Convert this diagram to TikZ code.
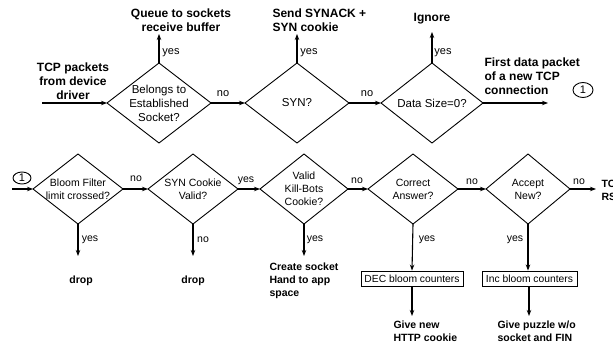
\documentclass[tikz,border=0pt]{standalone}
\usepackage{fontspec}
\setmainfont{Liberation Sans}
\usetikzlibrary{shapes.geometric,arrows.meta}
\begin{document}
\begin{tikzpicture}[x=1pt,y=-1pt,
  line width=1.1pt,
  arr/.style={-{Stealth[length=6pt,width=4.5pt]}},
  dia/.style={draw,diamond,inner sep=0pt,outer sep=0pt,line width=0.9pt},
  dtop/.style={font=\fontsize{11.5}{14}\selectfont,align=center,inner sep=0pt},
  dbot/.style={font=\fontsize{10.5}{13}\selectfont,align=center,inner sep=0pt},
  otop/.style={font=\fontsize{12}{14}\selectfont\bfseries,inner sep=0pt},
  obot/.style={font=\fontsize{10.5}{13}\selectfont\bfseries,inner sep=0pt},
  lab/.style={font=\fontsize{11}{13}\selectfont,inner sep=0pt},
  labs/.style={font=\fontsize{10.5}{13}\selectfont,inner sep=0pt},
  cbox/.style={draw,line width=0.9pt,minimum height=15pt,inner sep=0pt,font=\fontsize{10.3}{12}\selectfont},
  circ/.style={draw,ellipse,line width=0.9pt,inner sep=0pt,font=\fontsize{11}{12}\selectfont}
]
\useasboundingbox (0,0) rectangle (613,347);

% ---- first stage: incoming TCP packets ----
\node[otop,align=center] (src) at (73,81) {TCP packets\\from device\\driver};
\coordinate (srcend) at (42,103);

\node[dia,minimum width=104pt,minimum height=80pt] (d1) at (159,103) {};
\node[dtop] at (d1) {Belongs to\\Established\\Socket?};
\node[dia,minimum width=104pt,minimum height=80pt] (d2) at (297,103) {};
\node[dtop] at (d2) {SYN?};
\node[dia,minimum width=102pt,minimum height=80pt] (d3) at (432,103) {};
\node[dtop] at (d3) {Data Size=0?};

\node[otop,align=center,anchor=south] (q) at (181,32) {Queue to sockets\\receive buffer};
\node[otop,align=left,anchor=south west] (syn) at (272,32) {Send SYNACK +\\SYN cookie};
\node[otop,anchor=south] (ign) at (432,25) {Ignore};
\node[otop,align=left,anchor=north west] (first) at (484,57) {First data packet\\of a new TCP\\connection};
\node[circ,minimum width=20pt,minimum height=15pt] (c1) at (583,90) {1};
\coordinate (firstend) at (548,103);

\draw[arr] (srcend) -- (d1.west);
\draw[arr] (d1.east) -- (d2.west);
\draw[arr] (d2.east) -- (d3.west);
\draw[arr] (d3.east) -- (firstend);
\draw[arr] (d1.north) -- ++(0,-29);
\draw[arr] (d2.north) -- ++(0,-29);
\draw[arr] (d3.north) -- ++(0,-31);

\node[lab] at (171,53) {yes};
\node[lab] at (309,53) {yes};
\node[lab] at (443,53) {yes};
\node[lab] at (223,94) {no};
\node[lab] at (367,94) {no};

% ---- second stage: new connection checks ----
\node[circ,minimum width=18pt,minimum height=12pt] (c2) at (22,178) {1};
\coordinate (c2in) at (12,189);

\node[dia,minimum width=90pt,minimum height=70pt] (b1) at (78,189) {};
\node[dbot] at (b1) {Bloom Filter\\limit crossed?};
\node[dia,minimum width=90pt,minimum height=70pt] (b2) at (193,189) {};
\node[dbot] at (b2) {SYN Cookie\\Valid?};
\node[dia,minimum width=88pt,minimum height=70pt] (b3) at (304,189) {};
\node[dbot] at (b3) {Valid\\Kill-Bots\\Cookie?};
\node[dia,minimum width=90pt,minimum height=70pt] (b4) at (413,189) {};
\node[dbot] at (b4) {Correct\\Answer?};
\node[dia,minimum width=84pt,minimum height=70pt] (b5) at (528,189) {};
\node[dbot] at (b5) {Accept\\New?};

\draw[arr] (c2in) -- (b1.west);
\draw[arr] (b1.east) -- (b2.west);
\draw[arr] (b2.east) -- (b3.west);
\draw[arr] (b3.east) -- (b4.west);
\draw[arr] (b4.east) -- (b5.west);
\coordinate (rstend) at (596,189);
\draw[arr] (b5.east) -- (rstend);
\node[obot,align=left,anchor=west] (rst) at (601,190) {TCP\\RST};

\node[labs] at (136,179) {no};
\node[labs] at (246,181) {yes};
\node[labs] at (357,181) {no};
\node[labs] at (472,182) {no};
\node[labs] at (579,182) {no};

% drops and socket creation
\coordinate (b1end) at (78,256);
\coordinate (b2end) at (193,256);
\coordinate (b3end) at (304,256);
\draw[arr] (b1.south) -- (b1end);
\draw[arr] (b2.south) -- (b2end);
\draw[arr] (b3.south) -- (b3end);
\node[labs] at (90,240) {yes};
\node[labs] at (203,240) {no};
\node[labs] at (315,240) {yes};

\node[obot] (drop1) at (81,281) {drop};
\node[obot] (drop2) at (193,281) {drop};
\node[obot,align=left,anchor=north west] (sock) at (269,262) {Create socket\\Hand to app\\space};

% bloom counter updates
\node[cbox,minimum width=102pt] (dec) at (412,278.5) {DEC bloom counters};
\node[cbox,minimum width=95pt] (inc) at (529.5,278.5) {Inc bloom counters};
\draw[arr] (b4.south) -- (dec.north);
\draw[arr] (b5.south) -- (b5.south |- inc.north);
\node[labs] at (427,240) {yes};
\node[labs] at (515,240) {yes};

\coordinate (decend) at (412,316);
\coordinate (incend) at (529,316);
\draw[arr] (dec.south) -- (decend);
\draw[arr] (inc.south -| incend) -- (incend);
\node[obot,align=left,anchor=north west] (http) at (393,320) {Give new\\HTTP cookie};
\node[obot,align=left,anchor=north west] (puz) at (497,320) {Give puzzle w/o\\socket and FIN};
\end{tikzpicture}
\end{document}
